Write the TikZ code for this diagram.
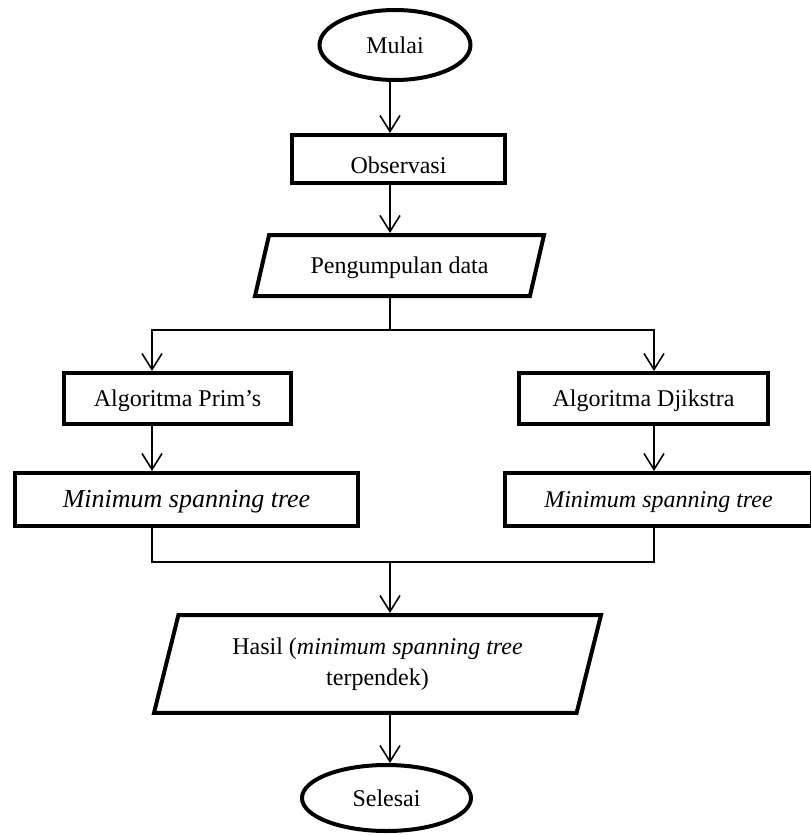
\documentclass[tikz,border=0pt]{standalone}
\usepackage{fontspec}
\setmainfont{Liberation Serif}
\usepackage{tikz}
\usetikzlibrary{
    shapes.geometric,
    arrows.meta
}
\tikzset{
    >={Straight Barb[length=8pt,width=10pt]},
    terminal/.style={
        draw,
        ellipse,
        line width=2pt,
        inner sep=0pt,
        text height=8pt,
        text depth=0pt
    },
    proses/.style={
        draw,
        rectangle,
        line width=2pt,
        inner sep=0pt,
        text height=8pt,
        text depth=0pt
    },
    data/.style={
        draw,
        trapezium,
        trapezium stretches body,
        line width=2pt,
        inner xsep=0pt
    },
    panah/.style={
        ->,
        line width=0.8pt
    }
}

\begin{document}
\begin{tikzpicture}[
    x=0.5pt,
    y=-0.5pt,
    font=\fontsize{12}{15.5}\selectfont
]
    \useasboundingbox (0,0) rectangle (810,835);

    % Simpul
    \node[terminal, minimum width=75.5pt, minimum height=35pt] (mulai) at (395,45) {Mulai};
    \node[proses, minimum width=106.5pt, minimum height=24pt, text height=14pt] (obs) at (398.5,159) {Observasi};
    \node[data, trapezium left angle=77, trapezium right angle=103,
          minimum width=144.5pt, inner ysep=11.25pt,
          text height=8pt, text depth=0pt] (kumpul) at (399.5,265.5) {Pengumpulan data};
    \node[proses, minimum width=113.5pt, minimum height=25.5pt] (prim) at (177.5,398.5) {Algoritma Prim's};
    \node[proses, minimum width=124.5pt, minimum height=25.5pt] (djik) at (643.5,398.5) {Algoritma Djikstra};
    \node[proses, minimum width=171.5pt, minimum height=26.5pt,
          font=\fontsize{13}{15}\selectfont\itshape] (mstkiri) at (186.5,499.5) {Minimum spanning tree};
    \node[proses, minimum width=153.5pt, minimum height=26.5pt,
          font=\fontsize{12}{15}\selectfont\itshape] (mstkanan) at (658.5,499.5) {Minimum spanning tree};
    \node[data, trapezium left angle=76, trapezium right angle=104,
          minimum width=223.5pt, inner ysep=11.3pt, align=center] (hasil) at (377.5,664)
          {Hasil (\textit{minimum spanning tree}\\terpendek)};
    \node[terminal, minimum width=84.5pt, minimum height=33pt] (selesai) at (386.5,798) {Selesai};

    % Titik bantu
    \coordinate (sumbu)  at (390,0);
    \coordinate (kiri)   at (152,0);
    \coordinate (kanan)  at (654,0);
    \coordinate (cabang) at (390,330);
    \coordinate (gabung) at (390,562);

    % Panah
    \draw[panah] (mulai.south -| sumbu) -- (obs.north -| sumbu);
    \draw[panah] (obs.south -| sumbu) -- (kumpul.north -| sumbu);
    \draw[panah] (kumpul.south -| sumbu) -- (cabang) -| (prim.north -| kiri);
    \draw[panah] (cabang) -| (djik.north -| kanan);
    \draw[panah] (prim.south -| kiri) -- (mstkiri.north -| kiri);
    \draw[panah] (djik.south -| kanan) -- (mstkanan.north -| kanan);
    \draw[line width=0.8pt] (mstkiri.south -| kiri) |- (gabung) -| (mstkanan.south -| kanan);
    \draw[panah] (gabung) -- (hasil.north -| sumbu);
    \draw[panah] (hasil.south -| sumbu) -- (selesai.north -| sumbu);

\end{tikzpicture}
\end{document}
